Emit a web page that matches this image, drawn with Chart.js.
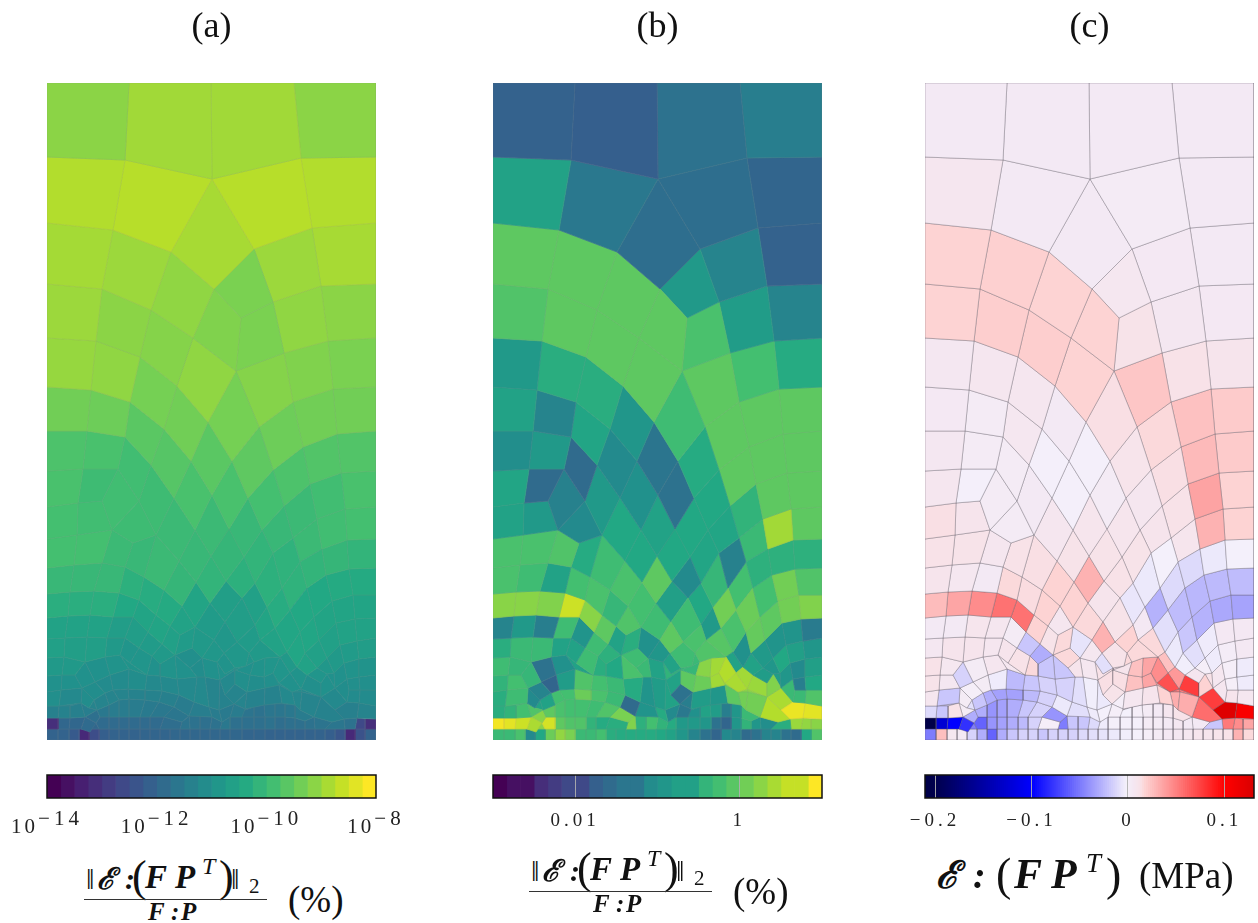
<!DOCTYPE html>
<html>
<head>
<meta charset="utf-8">
<script src="https://cdn.jsdelivr.net/npm/chart.js@4"></script>
<style>
  body { margin: 0; background: #fff; width: 1258px; height: 923px; overflow: hidden; position: relative; }
  canvas { position: absolute; }
  .t { position: absolute; font-family: 'Liberation Serif', serif; color: #111; white-space: nowrap; line-height: 1; }
  .bi { font-weight: bold; font-style: italic; }
  .ital { font-style: italic; }
  .rule { position: absolute; height: 1px; background: #333; }
</style>
</head>
<body>
<canvas id="meshA" width="329" height="740" style="left:47px;top:0"></canvas>
<canvas id="meshB" width="329" height="740" style="left:493px;top:0"></canvas>
<canvas id="meshC" width="329" height="740" style="left:925px;top:0"></canvas>
<canvas id="barA" width="420" height="80" style="left:0;top:765px"></canvas>
<canvas id="barB" width="420" height="80" style="left:446px;top:765px"></canvas>
<canvas id="barC" width="420" height="80" style="left:838px;top:765px"></canvas>

<script>
// every cell: flat x,y corner list in panel units (329 wide, 657 deep, y downwards)
const topCells = [
  [0,0,82,0,78,77,0,74], [82,0,164,0,165,96,78,77], [164,0,247,0,254,75,165,96], [247,0,329,0,329,74,254,75],
  [0,74,78,77,66,147,0,140], [78,77,165,96,124,169,66,147], [165,96,254,75,265,145,207,166], [254,75,329,74,329,140,265,145],
  [165,96,207,166,167,206,124,169], [0,140,66,147,55,206,0,201],
  [66,147,124,169,104,227,55,206], [124,169,167,206,146,255,104,227], [167,206,194,235,189,288,146,255], [167,206,207,166,226,219,194,235],
  [207,166,265,145,274,203,226,219], [265,145,329,140,329,201,274,203], [194,235,226,219,237,270,189,288], [226,219,274,203,281,258,237,270],
  [274,203,329,201,329,255,281,258], [0,201,55,206,49,258,0,255],
  [55,206,104,227,93,274,49,258], [104,227,146,255,130,303,93,274], [146,255,189,288,161,339,130,303], [189,288,212,344,185,378,161,339],
  [189,288,237,270,246,319,212,344], [237,270,281,258,286,306,246,319], [281,258,329,255,329,304,286,306], [0,255,49,258,44,307,0,304],
  [49,258,93,274,83,319,44,307], [93,274,130,303,117,346,83,319],
  [130,303,161,339,144,378,117,346], [161,339,185,378,165,412,144,378], [185,378,212,344,226,387,201,415], [212,344,246,319,256,364,226,387],
  [246,319,286,306,290,351,256,364], [286,306,329,304,329,348,290,351], [0,304,44,307,40,348,0,348], [44,307,83,319,78,354,40,348],
  [83,319,117,346,104,382,78,354], [117,346,144,378,127,415,104,382],
  [144,378,165,412,148,447,127,415], [165,412,185,378,201,415,182,446], [201,415,226,387,237,423,215,447], [226,387,256,364,263,401,237,423],
  [256,364,290,351,294,390,263,401], [290,351,329,348,329,388,294,390], [0,348,40,348,36,386,0,388], [40,348,78,354,71,386,36,386],
  [78,354,104,382,92,418,71,386], [104,382,127,415,109,452,92,418],
  [127,415,148,447,132,478,109,452], [165,412,182,446,164,473,148,447], [201,415,215,447,197,474,182,446], [0,388,36,386,31,420,0,424],
  [36,386,71,386,55,418,31,420], [71,386,92,418,65,447,55,418], [263,401,294,390,298,426,270,436], [294,390,329,388,329,424,298,426],
  [0,424,31,420,30,452,0,456], [31,420,55,418,65,447,30,452],
  [65,447,92,418,109,452,86,460],
];
const topA = [
  -9.05,-8.85,-8.85,-9.05,-8.7,-8.65,-8.65,-8.7,-8.8,-8.82,
  -8.9,-9,-9.15,-9.2,-8.9,-8.8,-9.2,-9,-9.05,-8.9,
  -9.05,-9.1,-9,-9.25,-9.1,-9.15,-9.2,-8.95,-9,-9.25,
  -9.3,-9.55,-9.5,-9.35,-9.3,-9.3,-9.3,-9.35,-9.55,-9.6,
  -9.75,-9.75,-9.8,-9.7,-9.65,-9.65,-9.7,-9.75,-9.85,-9.9,
  -9.95,-9.95,-10,-9.75,-9.9,-9.85,-9.85,-9.75,-9.8,-9.85,
  -9.9,
];
const topB = [
  -1.75,-1.8,-1.5,-1.3,-0.7,-1.4,-1.55,-1.7,-1.55,0,
  0,0,0,-0.85,-1.2,-1.75,-0.15,-0.8,-1.2,-0.1,
  0,0,0,-0.25,0,-0.2,-0.55,-0.85,-0.5,-0.5,
  -0.9,-1.45,-0.55,0,0,0,-0.7,-1.2,-0.65,-1.1,
  -1,-1.5,-0.6,0,0,0,-1.05,-0.85,-1.6,-0.85,
  -0.6,-0.7,-0.6,-0.65,-1.6,-1.25,0,0,-0.7,-0.85,
  -1.1,
];
const topC = [
  .003,.003,.003,.003,.007,.003,.002,.003,.003,.017,
  .018,.017,.017,.006,.004,.003,.011,.005,.004,.017,
  .019,.019,.017,.013,.022,.012,.009,.005,.007,.007,
  .003,-.002,.01,.015,.024,.02,.004,.002,.006,-.002,
  -.002,.002,.007,.013,.027,.02,.005,.002,.002,.003,
  .007,.008,.008,.007,-.002,.002,.036,.017,.013,.009,
  .002,
];

const midCells = [
  [0,456,30,452,27,482,0,485], [30,452,65,447,55,480,27,482], [65,447,86,460,78,484,55,480], [86,460,109,452,97,494,78,484],
  [109,452,132,478,117,507,97,494], [148,447,132,478,149,499,164,473], [182,445,164,473,179,498,197,474], [164,473,179,498,163,520,149,499],
  [132,478,149,499,135,523,117,507], [197,474,179,498,195,515,208,500],
  [215,447,197,474,208,500,226,470], [215,447,237,423,246,455,226,470], [237,423,263,401,270,436,246,455], [270,436,298,426,300,457,275,466],
  [298,426,329,424,329,456,300,457], [300,457,329,456,329,485,302,486], [275,466,300,457,302,486,279,492], [253,479,275,466,279,492,260,505],
  [226,470,246,455,253,479,235,505], [208,500,226,470,235,505,220,524],
  [220,524,235,505,243,527,228,545], [302,486,329,485,329,512,306,512], [279,492,302,486,306,512,285,518], [260,505,279,492,285,518,267,534],
  [243,527,260,505,267,534,253,549], [228,545,243,527,253,549,240,569], [306,512,329,512,329,535,308,536], [285,518,306,512,308,536,289,540],
  [267,534,285,518,289,540,272,557], [253,549,267,534,272,557,258,570],
  [240,569,253,549,258,570,250,584], [308,536,329,535,329,555,310,558], [289,540,308,536,310,558,293,562], [272,557,289,540,293,562,280,575],
  [258,570,272,557,280,575,270,585], [250,584,258,570,270,585,260,592], [310,558,329,555,329,574,312,576], [293,562,310,558,312,576,297,580],
  [280,575,293,562,297,580,287,590], [270,585,280,575,287,590,280,591],
  [260,592,270,585,280,591,274,600], [312,576,329,574,329,592,312,594], [297,580,312,576,312,594,300,596], [287,590,297,580,300,596,288,605],
  [274,600,280,591,288,605,274,614], [312,594,329,592,329,607,313,607], [300,596,312,594,313,607,302,607], [288,605,300,596,302,607,300,619],
  [302,607,313,607,312,620,300,619], [313,607,329,607,329,623,312,620],
  [288,627,300,619,312,620,310,635,297,636], [312,620,329,623,329,636,310,635], [274,614,288,605,300,619,288,627], [255,609,274,614,267,634,253,627],
  [274,614,288,627,297,636,285,639,267,634], [233,574,243,590,232,600,226,590], [243,590,254,606,245,609,232,600], [250,584,260,592,254,606,243,590],
  [260,592,274,600,274,614,254,606], [240,569,250,584,243,590,233,574],
  [232,602,245,609,248,622,235,620], [245,609,255,609,253,627,248,622], [190,559,208,542,213,557,202,570], [208,542,220,524,228,545,213,557],
  [213,557,228,545,240,569,233,574], [178,539,190,559,177,570,167,557], [178,539,195,515,208,542,190,559], [163,520,179,498,195,515,178,539],
  [195,515,208,500,220,524,208,542], [149,499,163,520,148,544,135,523],
  [163,520,178,539,167,557,148,544],
];
const midA = [
  -9.8,-9.8,-9.95,-10,-9.95,-10,-10.05,-10.1,-10.05,-10.2,
  -10.1,-10,-9.95,-9.85,-9.8,-10.1,-10.05,-10.1,-10.15,-10.2,
  -10.3,-10.35,-10.35,-10.4,-10.4,-10.45,-10.5,-10.5,-10.5,-10.45,
  -10.45,-10.55,-10.55,-10.6,-10.6,-10.55,-10.7,-10.75,-10.8,-10.85,
  -10.9,-10.95,-10.95,-11,-11,-11.05,-11.05,-11.1,-11.15,-11.15,
  -11.4,-11.3,-11.2,-11.3,-11.35,-10.9,-11,-10.95,-11.05,-10.8,
  -11.2,-11.25,-10.75,-10.5,-10.55,-10.85,-10.7,-10.65,-10.6,-10.5,
  -10.75,
];
const midB = [
  -0.15,-0.15,-0.1,-0.55,-0.25,-0.6,-0.6,0,-0.15,-1.1,
  -0.65,-0.65,-0.4,0.45,0,-0.45,-0.45,-0.45,-1.25,-0.35,
  0.15,-0.1,0.15,-0.2,0.1,-0.15,0.25,0.15,0,0.05,
  -1,-1.35,-0.95,-0.95,-0.85,-0.7,-0.9,-0.75,-0.6,-0.9,
  -0.8,-0.75,-1.1,-0.9,0.25,-0.6,-1.3,-0.3,-0.3,-0.1,
  0.9,0.85,0.5,0.15,0.55,0.55,0.5,0.45,0.4,-0.7,
  0,0.15,-0.15,-0.85,-0.05,0,-0.25,-0.75,-0.6,-0.2,
  -0.25,
];
const midC = [
  .012,.011,.007,.012,.013,.011,.011,.03,.017,.012,
  .011,.009,.012,.03,.017,-.003,-.006,-.012,-.003,-.006,
  -.028,-.024,-.025,-.026,-.024,-.01,-.034,-.032,-.028,-.02,
  -.006,.004,.004,-.005,-.01,-.004,.004,.001,-.005,0,
  .007,-.005,0,.006,.017,-.005,0,.007,.009,.006,
  .125,.105,.076,.032,.057,.045,.068,.04,.076,.024,
  .017,.032,.017,.004,.015,.03,.011,.009,-.007,.017,
  .015,
];

const lowCells = [
  [0,485,27,482,23,509,0,511], [27,482,55,480,47,508,23,509], [55,480,78,484,72,510,47,508], [78,484,97,494,92,517,72,510],
  [97,494,117,507,109,532,92,517], [117,507,135,523,123,543,109,532], [0,511,23,509,21,533,0,535], [23,509,47,508,43,532,21,533],
  [47,508,72,510,66,534,43,532], [72,510,92,517,86,534,66,534],
  [92,517,109,532,101,549,86,534], [109,532,123,543,115,561,101,549], [123,543,135,523,148,544,133,552], [123,543,133,552,128,572,115,561],
  [133,552,148,544,145,565,128,572], [148,544,167,557,155,575,145,565], [167,557,177,570,170,579,155,575], [190,559,202,570,199,583,188,585,177,570],
  [177,570,188,585,178,591,170,579], [202,570,213,557,233,574,218,575,207,579],
  [207,579,218,575,217,594,203,592], [218,575,233,574,226,590,217,594], [199,583,207,579,203,592,188,587], [188,587,203,592,200,609,188,601],
  [203,592,217,594,218,605,200,609], [217,594,226,590,232,602,218,605], [178,612,188,601,200,609,187,621], [173,597,188,587,188,601,178,612],
  [173,597,178,612,187,621,172,627], [200,609,218,605,217,622,198,626],
  [218,605,232,602,235,620,217,622], [0,535,21,533,18,555,0,556], [21,533,43,532,40,554,18,555], [43,532,66,534,60,555,40,554],
  [66,534,86,534,78,555,60,555], [86,534,101,549,92,565,78,555], [101,549,115,561,105,573,92,565], [115,561,128,572,113,581,105,573],
  [0,556,18,555,17,574,0,575], [18,555,40,554,38,579,17,574],
  [40,554,60,555,58,574,38,579], [60,555,78,555,73,572,58,574], [78,555,92,565,83,580,73,572], [92,565,105,573,100,592,83,580],
  [105,573,113,581,113,593,100,592], [113,581,128,572,130,596,113,593], [128,572,143,585,150,594,130,596], [128,572,145,565,155,575,143,585],
  [143,585,155,575,158,594,150,594], [155,575,170,579,173,597,158,594],
  [0,575,17,574,15,592,0,593], [17,574,38,579,28,592,15,592], [38,579,48,599,35,605,28,592], [38,579,58,574,63,592,48,599],
  [58,574,73,572,82,586,63,592], [73,572,83,580,100,592,82,586], [0,593,15,592,14,607,0,609], [15,592,28,592,35,605,14,607],
  [0,609,14,607,12,623,0,623], [14,607,35,605,34,620,12,623],
  [35,605,47,617,42,625,34,620], [35,605,48,599,58,610,47,617], [48,599,63,592,66,607,58,610], [63,592,82,586,81,606,66,607],
  [82,586,100,592,98,607,81,606], [100,592,113,593,115,608,98,607], [113,593,130,596,132,612,115,608], [130,596,150,594,147,619,132,612],
  [150,594,158,594,162,624,147,619], [158,594,173,597,172,627,162,624],
  [47,617,58,610,62,622,50,627], [58,610,66,607,72,617,62,622], [66,607,81,606,82,616,72,617], [81,606,98,607,98,617,82,616],
  [98,607,115,608,112,619,98,617], [115,608,132,612,127,624,112,619], [132,612,147,619,142,633,127,624], [147,619,162,624,165,634,142,633],
  [162,624,172,627,175,639,165,634], [172,627,187,621,183,634,175,639],
  [187,621,198,626,195,634,183,634], [0,623,12,623,11,635,0,635], [12,623,23,623,23,635,11,635], [23,623,34,620,38,634,23,635],
  [34,620,42,625,50,627,38,634], [50,627,62,622,62,634,53,634], [62,622,72,617,72,634,62,634], [72,617,82,616,82,634,72,634],
  [82,616,98,617,93,634,82,634], [98,617,112,619,103,634,93,634],
  [112,619,127,624,117,634,103,634], [127,624,142,633,135,639,117,634], [0,635,11,635,11,646,0,646], [11,635,23,635,22,646,11,646],
  [23,635,38,634,34,646,22,646], [38,634,49,640,43,649,34,646], [38,634,50,627,53,634,49,640], [49,640,53,634,62,634,62,646,52,646],
  [62,634,72,634,72,646,62,646], [72,634,82,634,82,646,72,646],
  [82,634,93,634,93,646,82,646], [93,634,103,634,103,646,93,646], [103,634,117,634,113,646,103,646], [117,634,135,639,133,646,113,646],
  [135,639,142,633,143,646,133,646], [142,633,153,633,153,646,143,646], [153,633,165,634,163,646,153,646], [165,634,175,639,173,646,163,646],
  [175,639,183,634,183,646,173,646], [183,634,195,634,195,646,183,646],
  [195,628,207,624,207,634,195,634], [207,624,217,622,218,634,207,634], [217,622,228,621,228,634,218,634], [228,621,238,621,238,634,228,634],
  [238,621,248,622,248,635,238,634], [248,622,253,627,267,634,258,638,248,635], [195,634,207,634,207,646,195,646], [207,634,218,634,218,646,207,646],
  [218,634,228,634,228,646,218,646], [228,634,238,634,238,646,228,646],
  [238,634,248,635,248,646,238,646], [248,635,258,638,258,646,248,646], [258,638,267,634,268,646,258,646], [267,634,285,639,278,646,268,646],
  [285,639,297,636,298,646,278,646], [297,636,310,635,308,646,298,646], [310,635,318,636,318,646,308,646], [318,636,329,636,329,646,318,646],
];
const lowA = [
  -10,-10,-10,-10.2,-10.3,-10.35,-10.25,-10.25,-10.25,-10.4,
  -10.5,-10.5,-10.55,-10.6,-10.75,-10.8,-10.85,-10.85,-10.95,-10.8,
  -10.95,-10.9,-11,-11.05,-11.1,-11.05,-11.3,-11.2,-11.35,-11.35,
  -11.35,-10.55,-10.55,-10.55,-10.7,-10.7,-10.75,-10.8,-10.6,-10.65,
  -10.65,-10.8,-10.9,-10.9,-11,-10.95,-11,-11.05,-11.1,-11,
  -10.8,-10.8,-11,-11,-10.95,-10.95,-11,-11,-11.05,-11.2,
  -11.1,-11.1,-11.15,-11.15,-11.1,-11.2,-11.2,-11.2,-11.2,-11.3,
  -11.3,-11.3,-11.3,-11.35,-11.35,-11.4,-11.5,-11.45,-11.5,-11.55,
  -11.5,-11.4,-11.35,-11.4,-11.45,-11.6,-11.5,-11.5,-11.5,-11.55,
  -11.6,-11.65,-13.2,-12,-12,-11.9,-11.8,-11.9,-11.9,-11.9,
  -11.9,-11.9,-11.9,-11.85,-11.7,-11.75,-11.8,-11.75,-11.6,-11.8,
  -11.7,-11.75,-11.65,-11.65,-11.6,-11.5,-11.8,-11.8,-11.75,-11.85,
  -11.8,-11.8,-11.75,-11.7,-11.65,-11.75,-12.7,-13.2,
];
const lowB = [
  -0.15,-0.25,-0.7,-0.2,-0.15,-0.35,0.3,0.3,0.25,0.7,
  0.3,0,-0.1,-0.7,-0.5,-1,-0.9,-0.25,-0.7,-0.1,
  0.3,0.45,-0.35,0,0.1,0.45,-1.5,-0.7,-0.7,-0.8,
  -0.9,-1.2,-0.85,-1.3,-0.25,-0.95,-0.25,-0.45,-0.5,-0.3,
  -0.3,-0.7,-0.7,-0.25,-0.5,-0.6,-0.15,-0.25,-0.3,-0.7,
  -0.25,-0.35,-0.35,-1.5,-1,-0.7,-0.4,-0.2,-0.5,-0.25,
  -1.1,-1.2,-1.7,-0.8,-0.1,-0.2,-0.3,-0.55,-0.95,-0.8,
  -0.7,-0.2,-0.2,0.1,-0.15,-0.3,-1.6,-0.95,-0.55,-1.1,
  -1.4,-0.5,-0.4,-0.2,-0.1,0,-0.15,-0.2,-0.2,-0.25,
  -0.1,0.2,0.95,0.85,0.7,0.5,0.3,0.75,0,-0.1,
  -0.1,-0.4,-0.55,-0.5,0.25,-0.45,-0.2,-0.4,-0.55,-0.85,
  -1,-0.7,-0.8,-1.3,-0.9,-0.3,-0.85,-0.9,-1.5,-1.7,
  -0.9,-0.4,-0.9,-1.05,-0.5,0.4,0.35,0.3,
];
const lowC = [
  .009,.006,.003,.015,.014,.017,.026,.035,.045,.055,
  .055,.017,.007,.011,.015,-.008,.006,.011,-.01,.015,
  .024,.035,.009,.013,.024,.035,.011,.013,-.006,.006,
  .009,.003,.003,.008,.007,.002,-.02,-.03,.005,.009,
  .009,.007,.009,.012,.015,-.02,-.02,.015,.009,.006,
  .012,.006,-.015,.002,.007,.006,.011,.005,.007,-.02,
  .002,0,.002,-.005,-.025,-.02,-.015,-.015,-.01,-.004,
  -.02,-.03,-.035,-.035,-.025,-.015,-.006,-.01,-.005,-.003,
  0,-.012,-.02,.012,.002,-.03,-.04,-.035,-.03,-.02,
  -.015,-.04,-.21,-.125,-.1,-.08,-.03,-.06,-.04,-.035,
  -.03,-.025,-.015,0,-.05,-.02,-.02,-.012,-.005,-.002,
  -.003,0,.002,.003,.007,.011,-.002,-.002,.002,.002,
  .003,.005,.003,.003,-.02,.052,.045,.035,
];

// smaller cells that close the remaining holes of the mesh
const patchCells = [
  [246,455,270,436,275,466,253,479], [235,505,253,479,260,505,243,527], [170,579,178,591,188,585,188,587,173,597], [187,621,200,609,198,626],
  [199,583,202,570,207,579], [226,590,232,600,245,609,232,602,218,605], [254,606,274,614,255,609], [280,591,287,590,288,605],
  [12,623,23,623,34,620], [47,617,50,627,42,625], [217,622,235,620,248,622,238,621,228,621], [198,626,217,622,207,624,195,628],
  [188,585,199,583,188,587], [245,609,254,606,255,609], [34,646,49,640,52,646],
];
const patchA = [-9.95,-10.15,-11,-11.3,-10.9,-11.1,-11.2,-11,-11.3,-11.3,-11.4,-11.4,-11,-11.1,-12];
const patchB = [-0.3,-0.2,-0.4,-1.3,-0.3,0.3,0.3,-0.8,-0.4,-0.7,-0.9,-1,-0.4,0.3,0.3];
const patchC = [.008,-.012,.012,0,.015,.03,.05,.012,-.015,-.01,.01,0,.012,.05,-.05];

const bottomColumns = [0,11,22,32,42,52,62,72,82,93,103,113,123,133,143,153,163,173,183,195,207,218,228,238,248,258,268,278,288,298,308,318,329];
const bottomA = [-12.1,-12.1,-12.3,-13.3,-12.6,-12.2,-12.1,-12.1,-12.1,-12.05,-12.05,-12.05,-12,-12,-12,-12,-12,-12,-12,-12.05,-12.05,-12.1,-12.1,-12.1,-12.1,-12.1,-12.1,-12.2,-12.4,-13.3,-12.5,-12.1];
const bottomB = [-0.3,-0.3,-0.15,-1.1,-0.6,0.1,0.35,0.2,-0.3,-0.3,-0.2,-0.5,-0.55,-0.55,-0.55,-0.55,-0.6,-0.7,-0.9,-1.2,-1.5,-1.7,-1.1,-1.2,-1.6,-1.5,-1.2,-1.2,-1.5,-1.6,-0.6,-0.1];
const bottomC = [-.05,.025,.006,.003,-.015,-.03,-.06,-.03,-.02,-.015,-.015,-.02,-.015,-.015,-.015,-.012,-.01,-.008,-.006,-.004,-.003,0,.002,.004,.005,.006,.008,.008,.01,.012,.03,.015];

// colorbar swatches: which of the 24 viridis steps shows in each slot
const levelsA = [0,1,2,3,4,5,6,7,8,9,10,11,12,13,14,15,16,17,18,19,20,21,22,23];
const levelsB = [0,1,1,3,4,5,5,7,8,9,9,11,12,13,13,15,16,17,18,19,20,21,21,23];

const ticksA = [-14,-12,-10,-8];
const ticksB = [-2,0];
const ticksC = [-0.2,-0.1,0,0.1];
const tickLabelsB = ['0.01','1'];
const tickLabelsC = ['−0.2','−0.1','0','0.1'];

const VIRIDIS = ['#440154','#482475','#414487','#355f8d','#2a788e','#21918c','#22a884','#44bf70','#7ad151','#bddf26','#fde725'];
const WORK_STOPS = [[-.21,0,0,72],[-.2,0,0,77],[-.1,0,0,255],[-.003,244,240,251],[0,245,238,248],[.003,243,233,244],[.012,248,226,232],[.017,253,211,211],[.1,255,0,0],[.13,217,0,0]];
const SERIF = "'Liberation Serif', serif";

const hex2rgb = h => [1,3,5].map(i => parseInt(h.slice(i, i + 2), 16));
function viridis(t) {
  const p = Math.min(Math.max(t, 0), 1) * (VIRIDIS.length - 1), i = Math.min(Math.floor(p), VIRIDIS.length - 2);
  const a = hex2rgb(VIRIDIS[i]), b = hex2rgb(VIRIDIS[i + 1]);
  return `rgb(${a.map((v, k) => Math.round(v + (b[k] - v) * (p - i))).join(',')})`;
}
function workColor(v) {
  for (let i = 0; i < WORK_STOPS.length - 1; i++) {
    const s = WORK_STOPS[i], e = WORK_STOPS[i + 1];
    if (v <= e[0]) {
      const f = Math.max(0, (v - s[0]) / (e[0] - s[0]));
      return `rgb(${[1,2,3].map(k => Math.round(s[k] + (e[k] - s[k]) * f)).join(',')})`;
    }
  }
  return 'rgb(217,0,0)';
}
const colorA = v => viridis((v + 14) / 6);
const colorB = v => viridis((v + 3) / 4.01);

// opaque edge so no white seam shows between neighbouring fills
const softEdge = fill => {
  const c = fill.match(/\d+/g).map(Number);
  return `rgb(${c.map(v => Math.round(v * 0.82 + 130 * 0.18)).join(',')})`;
};
const hardEdge = () => 'rgba(95,90,100,.5)';

const allCells = topCells.concat(midCells, lowCells, patchCells);
bottomColumns.slice(0, -1).forEach((x, i) => {
  const r = bottomColumns[i + 1];
  allCells.push([x,646,r,646,r,657,x,657]);
});
const allA = topA.concat(midA, lowA, patchA, bottomA);
const allB = topB.concat(midB, lowB, patchB, bottomB);
const allC = topC.concat(midC, lowC, patchC, bottomC);

function polygon(flat) {
  const pts = [];
  for (let i = 0; i < flat.length; i += 2) pts.push({ x: flat[i], y: flat[i + 1] });
  pts.push(pts[0]);
  return pts;
}

function drawMesh(id, title, values, color, edge, edgeWidth) {
  new Chart(document.getElementById(id), {
    type: 'line',
    data: {
      datasets: allCells.map((c, i) => ({
        data: polygon(c),
        fill: 'shape',
        backgroundColor: color(values[i]),
        borderColor: edge(color(values[i])),
        borderWidth: edgeWidth,
        pointRadius: 0,
        tension: 0,
      })),
    },
    options: {
      responsive: false, animation: false, events: [], devicePixelRatio: 1,
      layout: { padding: 0 },
      plugins: {
        legend: { display: false }, tooltip: { enabled: false },
        title: { display: true, text: title, color: '#111', font: { family: SERIF, size: 36, weight: 'normal', lineHeight: 1.2 }, padding: { top: 6, bottom: 33.8 } },
      },
      scales: {
        x: { type: 'linear', display: false, min: 0, max: 329 },
        y: { type: 'linear', display: false, min: 0, max: 657, reverse: true },
      },
    },
  });
}

// black frame on top of the swatches; optional hand-set power labels for the log bar
const barFrame = {
  id: 'barFrame',
  beforeDraw(chart) { chart.ctx.letterSpacing = '4px'; },
  afterDraw(chart, _, opts) {
    const { ctx, chartArea: a, scales } = chart;
    ctx.save();
    ctx.strokeStyle = '#111'; ctx.lineWidth = 1.5;
    ctx.strokeRect(a.left, a.top, a.right - a.left, a.bottom - a.top);
    if (opts.powers) {
      ctx.fillStyle = '#222'; ctx.textBaseline = 'alphabetic'; ctx.textAlign = 'left';
      for (const v of opts.powers) {
        const exp = '−' + Math.abs(v);
        ctx.font = `21px ${SERIF}`; ctx.letterSpacing = '3px';
        const w1 = ctx.measureText('10').width;
        ctx.letterSpacing = '4px';
        const w2 = ctx.measureText(exp).width;
        const x = scales.x.getPixelForValue(v) - (w1 + w2) / 2;
        ctx.letterSpacing = '3px';
        ctx.fillText('10', x, 68);
        ctx.letterSpacing = '4px';
        ctx.fillText(exp, x + w1, 60);
      }
    }
    ctx.restore();
  },
};

function drawBar(id, lo, hi, swatches, ticks, labels, padL, padR, powers) {
  new Chart(document.getElementById(id), {
    type: 'bar',
    plugins: [barFrame],
    data: {
      labels: [''],
      datasets: swatches.map(s => ({ data: [[s.lo, s.hi]], backgroundColor: s.color, borderWidth: 0, borderSkipped: false })),
    },
    options: {
      indexAxis: 'y', responsive: false, animation: false, events: [], devicePixelRatio: 1,
      layout: { padding: { left: padL, right: padR, top: 10, bottom: 0 } },
      datasets: { bar: { grouped: false, barPercentage: 1, categoryPercentage: 1 } },
      plugins: { legend: { display: false }, tooltip: { enabled: false }, barFrame: { powers } },
      scales: {
        y: { display: false },
        x: {
          type: 'linear', min: lo, max: hi,
          afterFit: s => { s.height = 47; },
          afterBuildTicks: s => { s.ticks = ticks.map(value => ({ value })); },
          grid: { z: 1, color: 'rgba(175,175,175,.9)', lineWidth: 1, drawTicks: false },
          border: { display: false },
          ticks: {
            display: !powers, padding: 12, maxRotation: 0, autoSkip: false, color: '#222',
            font: { family: SERIF, size: 19 },
            callback: v => labels[ticks.findIndex(t => Math.abs(t - v) < 1e-6)],
          },
        },
      },
    },
  });
}

drawMesh('meshA', '(a)', allA, colorA, softEdge, 0.8);
drawMesh('meshB', '(b)', allB, colorB, softEdge, 0.8);
drawMesh('meshC', '(c)', allC, workColor, hardEdge, 0.7);

const slots = (levels, lo, hi) => levels.map((l, i) => ({
  lo: lo + (hi - lo) * i / 24, hi: lo + (hi - lo) * (i + 1) / 24, color: viridis(l / 23),
}));
const smooth = [];
for (let i = 0; i < 160; i++) {
  const lo = -0.2104 + 0.341 * i / 160, hi = -0.2104 + 0.341 * (i + 1.3) / 160;
  smooth.push({ lo, hi: Math.min(hi, 0.1306), color: workColor((lo + hi) / 2) });
}
drawBar('barA', -14, -8, slots(levelsA, -14, -8), ticksA, [], 47, 44, ticksA);
drawBar('barB', -3, 1.01, slots(levelsB, -3, 1.01), ticksB, tickLabelsB, 47, 44);
drawBar('barC', -0.2104, 0.1306, smooth, ticksC, tickLabelsC, 87, 4);

// the axis titles are set piece by piece, x and baseline taken off the picture
function put(text, x, baseline, size, cls) {
  const el = document.createElement('div');
  el.className = 't ' + (cls || '');
  el.textContent = text;
  el.style.left = x + 'px';
  el.style.top = (baseline - 0.8375 * size) + 'px';
  el.style.fontSize = size + 'px';
  document.body.appendChild(el);
}
function ratioTitle(left, ruleY) {
  const base = ruleY - 10;
  put('‖', left + 2, base, 30);
  put('ℰ', left + 13, base, 30, 'bi');
  put(':', left + 41, base, 30, 'bi');
  put('(', left + 48, base + 3, 44);
  put('F', left + 61, base, 33, 'bi');
  put('P', left + 91, base, 33, 'bi');
  put('T', left + 118, base - 15, 24, 'ital');
  put(')', left + 135, base + 3, 44);
  put('‖', left + 147, base, 30);
  put('2', left + 165, base + 5, 21);
  const rule = document.createElement('div');
  rule.className = 'rule';
  rule.style.cssText = `left:${left}px;top:${ruleY}px;width:183px`;
  document.body.appendChild(rule);
  put('F', left + 64, ruleY + 21, 25, 'bi');
  put(':', left + 87, ruleY + 21, 25, 'bi');
  put('P', left + 97, ruleY + 21, 25, 'bi');
  put('(%)', left + 204, ruleY + 13, 37);
}
ratioTitle(84, 899);
ratioTitle(529, 891);

put('ℰ', 936, 888, 38, 'bi');
put(':', 973, 888, 38, 'bi');
put('(', 996, 891, 46);
put('F', 1014, 888, 42, 'bi');
put('P', 1051, 888, 42, 'bi');
put('T', 1086, 873, 27, 'ital');
put(')', 1106, 891, 46);
put('(MPa)', 1139, 888, 37);
</script>
</body>
</html>
